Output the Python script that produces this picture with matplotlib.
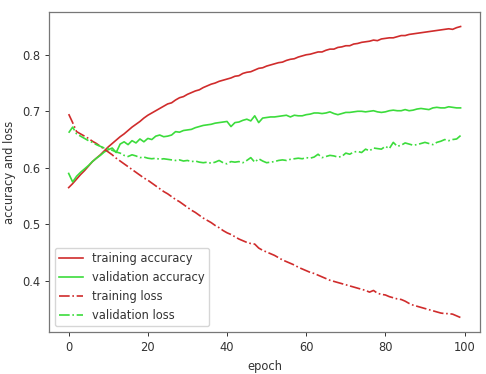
import matplotlib
matplotlib.use("Agg")
import matplotlib.pyplot as plt

epochs = list(range(100))

train_acc = [0.565, 0.572, 0.580, 0.588, 0.595, 0.603, 0.611, 0.617, 0.623, 0.630,
             0.637, 0.643, 0.649, 0.655, 0.660, 0.666, 0.672, 0.677, 0.682, 0.688,
             0.693, 0.697, 0.701, 0.705, 0.709, 0.713, 0.715, 0.720, 0.724, 0.726,
             0.730, 0.733, 0.736, 0.738, 0.742, 0.745, 0.748, 0.750, 0.753, 0.755,
             0.757, 0.759, 0.762, 0.763, 0.767, 0.769, 0.770, 0.773, 0.776, 0.777,
             0.780, 0.782, 0.784, 0.786, 0.787, 0.790, 0.792, 0.793, 0.796, 0.798,
             0.800, 0.801, 0.803, 0.805, 0.805, 0.808, 0.810, 0.810, 0.813, 0.814,
             0.816, 0.816, 0.819, 0.820, 0.822, 0.823, 0.824, 0.826, 0.825, 0.828,
             0.829, 0.830, 0.830, 0.832, 0.834, 0.834, 0.836, 0.837, 0.838, 0.839,
             0.840, 0.841, 0.842, 0.843, 0.844, 0.845, 0.846, 0.845, 0.848, 0.850]

val_acc = [0.590, 0.575, 0.585, 0.592, 0.598, 0.604, 0.611, 0.617, 0.622, 0.628,
           0.632, 0.635, 0.627, 0.642, 0.646, 0.641, 0.648, 0.644, 0.651, 0.646,
           0.652, 0.650, 0.656, 0.658, 0.655, 0.656, 0.658, 0.664, 0.663, 0.666,
           0.667, 0.668, 0.671, 0.673, 0.675, 0.676, 0.677, 0.679, 0.680, 0.681,
           0.682, 0.673, 0.680, 0.681, 0.684, 0.686, 0.683, 0.692, 0.680, 0.688,
           0.689, 0.690, 0.690, 0.691, 0.692, 0.693, 0.690, 0.693, 0.692, 0.692,
           0.694, 0.695, 0.697, 0.697, 0.696, 0.697, 0.699, 0.696, 0.694, 0.696,
           0.698, 0.698, 0.699, 0.700, 0.700, 0.699, 0.700, 0.701, 0.699, 0.698,
           0.699, 0.701, 0.702, 0.701, 0.701, 0.703, 0.701, 0.702, 0.704, 0.705,
           0.704, 0.703, 0.706, 0.707, 0.706, 0.706, 0.708, 0.707, 0.706, 0.706]

train_loss = [0.695, 0.680, 0.664, 0.660, 0.656, 0.652, 0.647, 0.643, 0.638, 0.633,
              0.628, 0.623, 0.617, 0.612, 0.607, 0.602, 0.597, 0.592, 0.587, 0.582,
              0.578, 0.573, 0.568, 0.563, 0.558, 0.554, 0.549, 0.544, 0.540, 0.535,
              0.530, 0.525, 0.521, 0.516, 0.511, 0.507, 0.503, 0.498, 0.494, 0.489,
              0.485, 0.482, 0.478, 0.474, 0.471, 0.468, 0.466, 0.465, 0.458, 0.454,
              0.451, 0.448, 0.445, 0.441, 0.437, 0.434, 0.431, 0.428, 0.424, 0.421,
              0.418, 0.415, 0.413, 0.410, 0.407, 0.404, 0.401, 0.399, 0.397, 0.395,
              0.393, 0.391, 0.389, 0.387, 0.385, 0.383, 0.380, 0.383, 0.378, 0.376,
              0.375, 0.372, 0.370, 0.368, 0.367, 0.364, 0.360, 0.357, 0.355, 0.353,
              0.351, 0.349, 0.347, 0.345, 0.343, 0.342, 0.342, 0.341, 0.338, 0.335]

val_loss = [0.662, 0.672, 0.660, 0.656, 0.652, 0.648, 0.645, 0.641, 0.638, 0.635,
            0.634, 0.631, 0.628, 0.626, 0.622, 0.620, 0.623, 0.621, 0.618, 0.619,
            0.617, 0.616, 0.617, 0.615, 0.616, 0.615, 0.614, 0.613, 0.614, 0.612,
            0.613, 0.611, 0.612, 0.610, 0.609, 0.610, 0.608, 0.610, 0.613, 0.609,
            0.607, 0.611, 0.610, 0.611, 0.609, 0.613, 0.618, 0.610, 0.616, 0.612,
            0.609, 0.610, 0.611, 0.613, 0.614, 0.613, 0.615, 0.616, 0.617, 0.616,
            0.618, 0.617, 0.619, 0.624, 0.618, 0.620, 0.622, 0.621, 0.619, 0.620,
            0.626, 0.624, 0.628, 0.629, 0.627, 0.633, 0.630, 0.635, 0.634, 0.633,
            0.638, 0.634, 0.645, 0.638, 0.640, 0.644, 0.642, 0.640, 0.641, 0.643,
            0.645, 0.643, 0.641, 0.645, 0.647, 0.650, 0.648, 0.650, 0.651, 0.657]

red = "#d02c2c"
green = "#3cdc3c"
fs = 8.3

fig = plt.figure(figsize=(4.86, 3.74), dpi=100)
ax = fig.add_axes([0.101, 0.112, 0.887, 0.856])
lw = 1.2
ax.plot(epochs, train_acc, color=red, lw=lw, label="training accuracy")
ax.plot(epochs, val_acc, color=green, lw=lw, label="validation accuracy")
ax.plot(epochs, train_loss, color=red, lw=lw, ls="-.", label="training loss")
ax.plot(epochs, val_loss, color=green, lw=lw, ls="-.", label="validation loss")

ax.set_xticks([0, 20, 40, 60, 80, 100])
ax.set_yticks([0.4, 0.5, 0.6, 0.7, 0.8])
ax.tick_params(labelsize=fs, colors="#333333", width=0.7, length=3)
for s in ax.spines.values():
    s.set_color("#777777")
    s.set_linewidth(0.9)
ax.set_xlabel("epoch", fontsize=fs, color="#333333")
ax.set_ylabel("accuracy and loss", fontsize=fs, color="#333333")
leg = ax.legend(loc="lower left", fontsize=fs, frameon=True)
for t in leg.get_texts():
    t.set_color("#333333")
fig.savefig("out.png", dpi=100)
